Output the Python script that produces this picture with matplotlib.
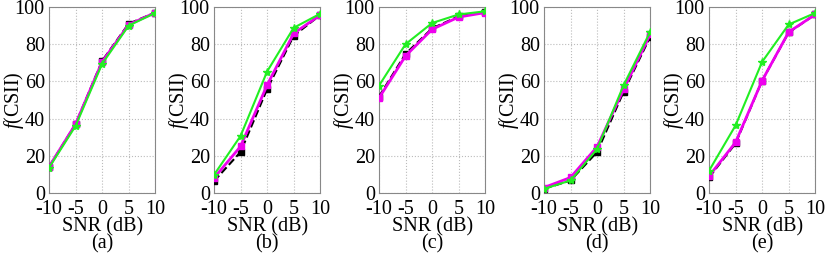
import matplotlib
matplotlib.use('Agg')
from matplotlib import pyplot as plt

plt.rcParams['font.family'] = ['Liberation Serif', 'DejaVu Serif']
plt.rcParams['mathtext.fontset'] = 'custom'
plt.rcParams['mathtext.rm'] = 'Liberation Serif'
plt.rcParams['mathtext.it'] = 'Liberation Serif:italic'
plt.rcParams['axes.unicode_minus'] = False

snr = [-10, -5, 0, 5, 10]
panels = ['(a)', '(b)', '(c)', '(d)', '(e)']

# black dashed series
black = [[14, 37, 71, 91, 97],
         [6.3, 22, 55.8, 84.5, 95.7],
         [51.8, 74.8, 88.5, 95, 97.3],
         [2.2, 6.7, 22, 54.5, 84],
         [8.3, 26.6, 60.4, 86.3, 96]]
# magenta series
magenta = [[14, 37, 70.5, 90.5, 97],
           [8, 25, 58, 85.8, 95.7],
           [51, 73.7, 88, 94.6, 97],
           [2.9, 8.3, 24.8, 55.8, 85.3],
           [9, 27.2, 60.4, 86.5, 96]]
# green series
green = [[13.5, 36, 69.4, 90, 96.8],
         [9.7, 30.6, 65.3, 88.8, 96.4],
         [57.7, 80, 91.4, 96, 97.7],
         [2.2, 6.7, 23.6, 58, 86.7],
         [11.9, 36.3, 70.5, 90.6, 96.8]]

fig = plt.figure(figsize=(8.3, 2.6), dpi=100)
fs = 14.5
for i in range(5):
    ax = fig.add_axes([0.059 + i * 0.1988, 0.258, 0.128, 0.715])
    ax.plot(snr, black[i], color='black', linestyle='--', linewidth=1.5,
            marker='s', markersize=4, zorder=3)
    ax.plot(snr, magenta[i], color='#ee00ee', linewidth=2,
            marker='s', markersize=5, zorder=4)
    ax.plot(snr, green[i], color='#22ee22', linewidth=1.5,
            marker='*', markersize=6, zorder=5)
    ax.set_xlim(-10, 10)
    ax.set_ylim(0, 100)
    ax.set_xticks(snr)
    ax.set_yticks([0, 20, 40, 60, 80, 100])
    ax.grid(True, color='#bbbbbb', linestyle=':', linewidth=0.8)
    ax.tick_params(length=0, labelsize=fs, pad=3)
    ax.tick_params(axis='x', pad=5)
    for s in ax.spines.values():
        s.set_color('#888888')
        s.set_linewidth(0.8)
    ax.set_ylabel('$f$(CSII)', fontsize=fs)
    ax.yaxis.set_label_coords(-0.22, 0.5)
    ax.set_xlabel('SNR (dB)\n' + panels[i], fontsize=fs, labelpad=-1,
                  linespacing=0.85)

plt.savefig('out.png', dpi=100)
